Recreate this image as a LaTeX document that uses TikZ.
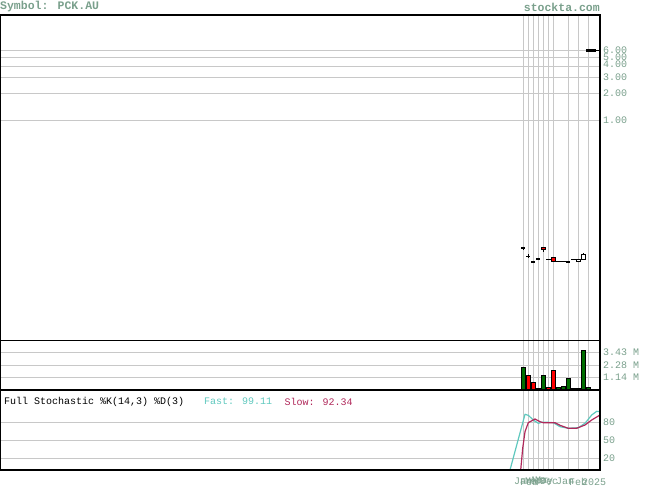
\documentclass[tikz,border=0pt]{standalone}
\usepackage{fontspec}
\newfontfamily\mono{Liberation Mono}
\definecolor{lbl}{RGB}{122,160,140}
\definecolor{grd}{RGB}{200,200,200}
\definecolor{fastc}{RGB}{95,200,190}
\definecolor{slowc}{RGB}{176,40,90}
\definecolor{upg}{RGB}{0,110,0}
\definecolor{dnr}{RGB}{255,0,0}
\tikzset{
  grid/.style={draw=grd,line width=1pt},
  frame/.style={draw=black,line width=1.3pt},
  axlbl/.style={font=\mono\fontsize{10}{10}\selectfont,text=lbl,anchor=west,inner sep=0pt},
  hdr/.style={font=\mono\bfseries\fontsize{11.5}{11.5}\selectfont,text=lbl,inner sep=0pt},
  ttl/.style={font=\mono\fontsize{10}{10}\selectfont,anchor=west,inner sep=0pt},
  dlbl/.style={font=\mono\fontsize{10}{10}\selectfont,text=lbl,anchor=west,inner sep=0pt},
  bar/.style={draw=black,line width=0.6pt},
  tick/.style={draw=black,line width=1.8pt},
  thin/.style={draw=black,line width=1pt},
  stoch/.style={line width=1.2pt,line join=round}
}
\begin{document}
\begin{tikzpicture}[x=1pt,y=-1pt]
\useasboundingbox (0,0) rectangle (655,486);
% header
\node[hdr,anchor=west] (sym) at (0,7) {Symbol: PCK.AU};
\node[hdr,anchor=east] (site) at (600,7) {stockta.com};
% horizontal grid - price
\foreach \yy in {50.3,57.4,66.1,77.4,93.2,120.3}
  \draw[grid] (0,\yy) -- (600,\yy);
% horizontal grid - volume
\foreach \yy in {352.3,365.7,377.7}
  \draw[grid] (0,\yy) -- (600,\yy);
% horizontal grid - stochastic
\foreach \yy in {422.3,440.3,458.3}
  \draw[grid] (0,\yy) -- (600,\yy);
% vertical grid
\foreach \xx in {523.3,528.3,533.3,538.3,543.3,548.3,553.3,568.3,578.3,588.3}
  \draw[grid] (\xx,15) -- (\xx,470);
% price labels
\node[axlbl] (p6) at (603,50.3) {6.00};
\node[axlbl] (p5) at (603,57.4) {5.00};
\node[axlbl] (p4) at (603,64.5) {4.00};
\node[axlbl] (p3) at (603,77.4) {3.00};
\node[axlbl] (p2) at (603,93.2) {2.00};
\node[axlbl] (p1) at (603,120.3) {1.00};
% volume labels
\node[axlbl] (v3) at (603,352.3) {3.43 M};
\node[axlbl] (v2) at (603,365.7) {2.28 M};
\node[axlbl] (v1) at (603,377.7) {1.14 M};
% stochastic labels
\node[axlbl] (s80) at (603,422.3) {80};
\node[axlbl] (s50) at (603,440.3) {50};
\node[axlbl] (s20) at (603,458.3) {20};
% candles
\draw[tick] (521.3,248.3) -- (525.3,248.3);
\draw[thin] (523.3,246.5) -- (523.3,250);
\draw[thin] (526.3,256) -- (530.3,256);
\draw[thin] (528.3,254) -- (528.3,258);
\draw[tick] (531.3,261.7) -- (535.3,261.7);
\draw[tick] (536.3,259) -- (540.3,259);
\draw[thin] (543.3,249.5) -- (543.3,251.7);
\draw[bar,fill=dnr] (541.3,247.3) rectangle (545.3,249.7);
\draw[thin] (546,259.3) -- (551,259.3);
\draw[thin] (555.3,261.3) -- (568,261.3);
\draw[bar,fill=dnr] (551.3,257.3) rectangle (555.3,261.7);
\draw[tick] (566.3,261.7) -- (570.3,261.7);
\draw[thin] (571,259) -- (576.5,259);
\draw[bar,fill=white] (576.3,259) rectangle (580.7,261.7);
\draw[thin] (583.5,253.3) -- (583.5,254.3);
\draw[bar,fill=white] (581.3,254.3) rectangle (585.7,259.3);
\draw[draw=black,line width=2.6pt] (586,50.3) -- (596,50.3);
\draw[thin] (596,51) -- (600,51);
% volume bars
\foreach \xa/\xb/\yt/\cc in {521.3/525.7/367/upg, 526.3/530.7/375.3/dnr, 531.3/535.7/382.3/dnr,
  536.3/540.3/388.3/upg, 541/545.3/375.3/upg, 546.3/550.3/387.3/dnr, 551/555.3/370/dnr,
  556.3/560.3/387.3/upg, 561.3/565.3/386.3/upg, 566.3/570.3/378/upg, 571.3/575.3/388.3/upg,
  576.3/580.3/388.3/upg, 581.3/585.7/350/upg, 586.3/590.3/387.7/upg}
  \draw[bar,fill=\cc] (\xa,\yt) rectangle (\xb,389.5);
\draw[thin] (590.3,389) -- (600,389);
% stochastic lines
\draw[stoch,fastc] (510,470) -- (525,414.3) -- (528.3,415.3) -- (533.3,420) -- (538.3,423.3)
  -- (541.7,422.3) -- (548,422.3) -- (553.3,422.7) -- (560,426.7) -- (568.3,428.3)
  -- (578.3,427.7) -- (585,423.3) -- (591.7,415) -- (596.7,411.3) -- (600,411.7);
\draw[stoch,slowc] (520.7,470) -- (522.7,448.3) -- (525,431.7) -- (528.3,422.7) -- (535,419)
  -- (540,421.7) -- (543.3,422.7) -- (555,422.7) -- (560,425.3) -- (568.3,428.3)
  -- (576.7,428.3) -- (585,425) -- (591.7,420) -- (600,415);
% frames
\draw[frame] (0,15) rectangle (600,470);
\draw[frame] (0,340.3) -- (600,340.3);
\draw[frame] (0,390) -- (600,390);
% stochastic title
\node[ttl] (st) at (4,401.7) {Full Stochastic \%K(14,3) \%D(3)};
\node[ttl,text=fastc] (fast) at (204,401.7) {Fast: 99.11};
\node[ttl,text=slowc] (slow) at (284.3,401.7) {Slow: 92.34};
% date labels (overlapping, as in the reference)
\node[dlbl] (d1) at (514,481.7) {Jan};
\node[dlbl] (d2) at (520,481.7) {Feb};
\node[dlbl] (d3) at (525,481.7) {Mar};
\node[dlbl] (d4) at (530,481.7) {Apr};
\node[dlbl] (d5) at (535,481.7) {May};
\node[dlbl] (d6) at (540,481.7) {Dec};
\node[dlbl] (d7) at (556,481.7) {Jan};
\node[dlbl] (d8) at (569,481.7) {Feb};
\node[dlbl] (d9) at (582,481.7) {2025};
\end{tikzpicture}
\end{document}
